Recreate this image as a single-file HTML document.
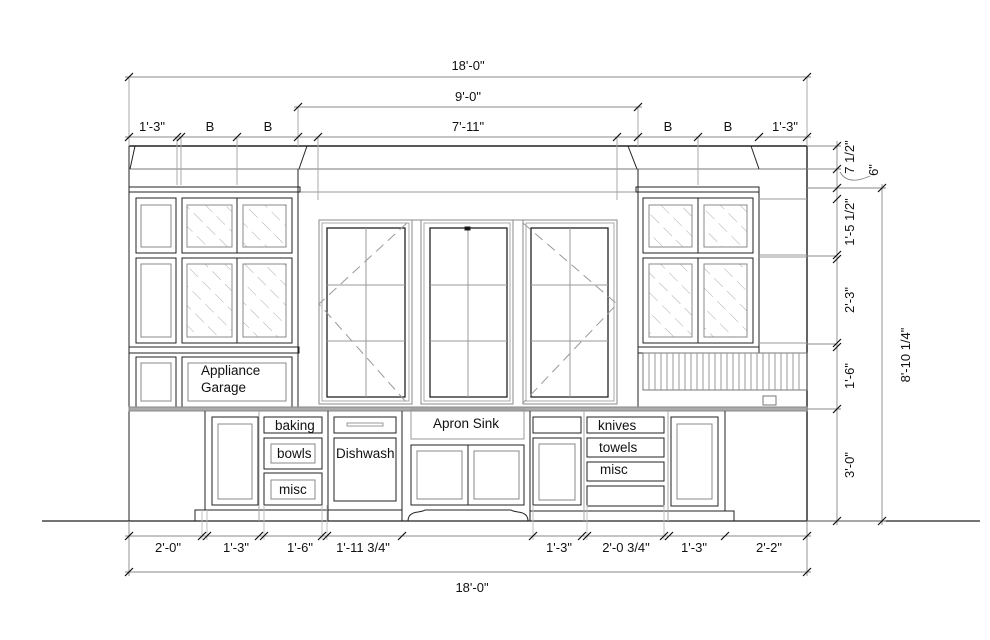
<!DOCTYPE html>
<html><head><meta charset="utf-8"><style>
html,body{margin:0;padding:0;background:#fff;}
svg{display:block;}
text{font-family:"Liberation Sans",Arial,sans-serif;fill:#111;}
</style></head><body>
<svg width="990" height="640" viewBox="0 0 990 640" xmlns="http://www.w3.org/2000/svg">
<defs>
<g id="t"><line x1="-4" y1="4" x2="4" y2="-4" stroke="#111" stroke-width="1.2"/></g>
<pattern id="hatch" patternUnits="userSpaceOnUse" width="14" height="18" patternTransform="rotate(-45)">
<line x1="0" y1="0" x2="0" y2="18" stroke="#888" stroke-width="0.7" stroke-dasharray="12 6"/>
</pattern>
</defs>
<g fill="none" stroke="#222" stroke-width="1">
<line x1="42" y1="521" x2="980" y2="521" stroke-width="1.3"/>
<line x1="129" y1="146" x2="129" y2="521"/>
<line x1="807" y1="146" x2="807" y2="521" stroke-width="1.4"/>
<line x1="129" y1="146" x2="807" y2="146" stroke-width="1.4"/>
<line x1="129" y1="169" x2="807" y2="169" stroke="#777"/>
<line x1="135" y1="146" x2="130" y2="169"/>
<line x1="307" y1="146" x2="299" y2="169"/>
<line x1="628" y1="146" x2="637" y2="169"/>
<line x1="751" y1="146" x2="759" y2="169"/>
<line x1="298" y1="169" x2="298" y2="410"/>
<line x1="638" y1="169" x2="638" y2="410"/>
<line x1="298" y1="192" x2="638" y2="192" stroke="#999"/>
<g stroke="#aaa"><line x1="177" y1="137" x2="177" y2="185"/><line x1="181" y1="137" x2="181" y2="185"/><line x1="237" y1="137" x2="237" y2="185"/><line x1="318" y1="137" x2="318" y2="200"/><line x1="617" y1="137" x2="617" y2="200"/><line x1="698" y1="137" x2="698" y2="185"/>
<line x1="298" y1="107" x2="298" y2="146"/><line x1="638" y1="107" x2="638" y2="146"/><line x1="129" y1="77" x2="129" y2="146"/><line x1="807" y1="77" x2="807" y2="146"/></g>

<rect x="129" y="187" width="171" height="5"/>
<rect x="129" y="192" width="169" height="155"/>
<rect x="129" y="347" width="170" height="6"/>
<rect x="136" y="198" width="40" height="55"/><rect x="141" y="205" width="30" height="42" stroke="#888"/>
<rect x="136" y="258" width="40" height="85"/><rect x="141" y="264" width="30" height="73" stroke="#888"/>
<rect x="182" y="198" width="110" height="55"/><line x1="237" y1="198" x2="237" y2="253"/>
<rect x="187" y="205" width="45" height="42" fill="url(#hatch)" stroke="#888"/><rect x="243" y="205" width="43" height="42" fill="url(#hatch)" stroke="#888"/>
<rect x="182" y="258" width="110" height="85"/><line x1="237" y1="258" x2="237" y2="343"/>
<rect x="187" y="264" width="45" height="73" fill="url(#hatch)" stroke="#888"/><rect x="243" y="264" width="43" height="73" fill="url(#hatch)" stroke="#888"/>
<rect x="136" y="357" width="40" height="50"/><rect x="141" y="363" width="30" height="38" stroke="#888"/>
<rect x="182" y="357" width="110" height="50"/><rect x="188" y="363" width="98" height="38" stroke="#888"/>

<rect x="636" y="187" width="123" height="5"/>
<rect x="638" y="192" width="121" height="155"/>
<rect x="638" y="347" width="121" height="6"/>
<rect x="643" y="198" width="110" height="55"/><line x1="698" y1="198" x2="698" y2="253"/>
<rect x="649" y="205" width="43" height="42" fill="url(#hatch)" stroke="#888"/><rect x="704" y="205" width="43" height="42" fill="url(#hatch)" stroke="#888"/>
<rect x="643" y="258" width="110" height="85"/><line x1="698" y1="258" x2="698" y2="343"/>
<rect x="649" y="264" width="43" height="73" fill="url(#hatch)" stroke="#888"/><rect x="704" y="264" width="43" height="73" fill="url(#hatch)" stroke="#888"/>
<g stroke="#999"><line x1="759" y1="199" x2="807" y2="199"/><line x1="759" y1="255" x2="807" y2="255"/><line x1="759" y1="257" x2="807" y2="257"/><line x1="759" y1="343" x2="807" y2="343"/></g>
<rect x="643" y="353" width="164" height="37" stroke="#777"/>
<g stroke="#999">
<line x1="649" y1="353" x2="649" y2="390"/><line x1="655" y1="353" x2="655" y2="390"/><line x1="661" y1="353" x2="661" y2="390"/><line x1="667" y1="353" x2="667" y2="390"/><line x1="673" y1="353" x2="673" y2="390"/><line x1="679" y1="353" x2="679" y2="390"/><line x1="685" y1="353" x2="685" y2="390"/><line x1="691" y1="353" x2="691" y2="390"/><line x1="697" y1="353" x2="697" y2="390"/><line x1="703" y1="353" x2="703" y2="390"/><line x1="709" y1="353" x2="709" y2="390"/><line x1="715" y1="353" x2="715" y2="390"/><line x1="721" y1="353" x2="721" y2="390"/><line x1="727" y1="353" x2="727" y2="390"/><line x1="733" y1="353" x2="733" y2="390"/><line x1="739" y1="353" x2="739" y2="390"/><line x1="745" y1="353" x2="745" y2="390"/><line x1="751" y1="353" x2="751" y2="390"/><line x1="757" y1="353" x2="757" y2="390"/><line x1="763" y1="353" x2="763" y2="390"/><line x1="769" y1="353" x2="769" y2="390"/><line x1="775" y1="353" x2="775" y2="390"/><line x1="781" y1="353" x2="781" y2="390"/><line x1="787" y1="353" x2="787" y2="390"/><line x1="793" y1="353" x2="793" y2="390"/><line x1="799" y1="353" x2="799" y2="390"/>
</g>
<rect x="763" y="396" width="13" height="9" stroke="#777"/>

<g>
<rect x="319" y="220" width="93" height="184" stroke="#888"/><rect x="322" y="223" width="87" height="178" stroke="#aaa"/>
<rect x="327" y="228" width="78" height="169" stroke-width="1.3"/>
<line x1="366" y1="228" x2="366" y2="397" stroke="#999"/><line x1="327" y1="285" x2="405" y2="285" stroke="#999"/><line x1="327" y1="341" x2="405" y2="341" stroke="#999"/>
<polyline points="407,223 319,304 407,403" stroke="#999" stroke-dasharray="10 6"/>
<rect x="421" y="220" width="92" height="184" stroke="#888"/><rect x="424" y="223" width="86" height="178" stroke="#aaa"/>
<rect x="430" y="228" width="77" height="169" stroke-width="1.3"/>
<line x1="468" y1="228" x2="468" y2="397" stroke="#999"/><line x1="430" y1="285" x2="507" y2="285" stroke="#999"/><line x1="430" y1="341" x2="507" y2="341" stroke="#999"/>
<rect x="465" y="227" width="5" height="3" fill="#111"/>
<rect x="523" y="220" width="94" height="184" stroke="#888"/><rect x="526" y="223" width="88" height="178" stroke="#aaa"/>
<rect x="531" y="228" width="77" height="169" stroke-width="1.3"/>
<line x1="570" y1="228" x2="570" y2="397" stroke="#999"/><line x1="531" y1="285" x2="608" y2="285" stroke="#999"/><line x1="531" y1="341" x2="608" y2="341" stroke="#999"/>
<polyline points="523,223 617,304 523,403" stroke="#999" stroke-dasharray="10 6"/>
<line x1="412" y1="220" x2="421" y2="220" stroke="#888"/><line x1="513" y1="220" x2="523" y2="220" stroke="#888"/>
</g>

<rect x="129" y="407" width="678" height="4" fill="#aaa" stroke="#888"/>

<line x1="205" y1="411" x2="205" y2="510"/>
<polyline points="195,521 195,510 402,510"/>
<line x1="402" y1="411" x2="402" y2="521"/>
<rect x="212" y="417" width="46" height="88"/><rect x="218" y="424" width="34" height="75" stroke="#888"/>
<line x1="259" y1="411" x2="259" y2="521" stroke="#aaa"/>
<rect x="264" y="417" width="58" height="16"/>
<rect x="264" y="438" width="58" height="31"/><rect x="271" y="444" width="44" height="19" stroke="#888"/>
<rect x="264" y="473" width="58" height="32"/><rect x="271" y="480" width="44" height="19" stroke="#888"/>
<line x1="328" y1="411" x2="328" y2="521"/>
<rect x="334" y="417" width="62" height="16"/><rect x="347" y="423" width="36" height="3" stroke="#999"/>
<rect x="334" y="438" width="62" height="63"/>

<rect x="411" y="409" width="113" height="30" stroke="#999"/>
<rect x="411" y="445" width="113" height="60"/><line x1="468" y1="445" x2="468" y2="505"/>
<rect x="417" y="451" width="45" height="48" stroke="#888"/><rect x="474" y="451" width="45" height="48" stroke="#888"/>
<path d="M408 521 Q408 513 418 512 Q424 511 425 510 L511 510 Q512 511 518 512 Q528 513 528 521"/>

<line x1="530" y1="411" x2="530" y2="521"/>
<rect x="533" y="417" width="48" height="16"/>
<rect x="533" y="438" width="48" height="67"/><rect x="539" y="444" width="36" height="56" stroke="#888"/>
<rect x="587" y="417" width="77" height="16"/>
<rect x="587" y="438" width="77" height="19"/>
<rect x="587" y="462" width="77" height="19"/>
<rect x="587" y="486" width="77" height="20"/>
<rect x="671" y="417" width="47" height="89"/><rect x="677" y="424" width="35" height="75" stroke="#888"/>
<line x1="725" y1="411" x2="725" y2="511"/>
<polyline points="530,511 734,511 734,521"/>
<line x1="584" y1="411" x2="584" y2="521" stroke="#aaa"/>
<line x1="668" y1="411" x2="668" y2="521" stroke="#aaa"/>

<g stroke="#888" stroke-width="0.9">
<line x1="125" y1="77" x2="811" y2="77"/>
<line x1="294" y1="107" x2="642" y2="107"/>
<line x1="125" y1="137" x2="811" y2="137"/>
<line x1="125" y1="536" x2="811" y2="536"/>
<line x1="125" y1="572" x2="811" y2="572"/>
<line x1="129" y1="521" x2="129" y2="576"/><line x1="807" y1="521" x2="807" y2="576"/>
<line x1="837" y1="141" x2="837" y2="525"/>
<line x1="882" y1="184" x2="882" y2="525"/>
<line x1="807" y1="146" x2="841" y2="146"/><line x1="807" y1="169" x2="841" y2="169"/><line x1="807" y1="188" x2="886" y2="188"/>
<line x1="807" y1="409" x2="841" y2="409"/><line x1="807" y1="521" x2="886" y2="521"/>
<line x1="807" y1="256" x2="837" y2="256"/><line x1="807" y1="344" x2="837" y2="344"/>
<path d="M840 172 Q848 186 870 176" fill="none"/>
<g stroke="#bbb"><line x1="202" y1="510" x2="202" y2="540"/><line x1="207" y1="510" x2="207" y2="540"/><line x1="264" y1="505" x2="264" y2="540"/><line x1="322" y1="505" x2="322" y2="540"/><line x1="327" y1="505" x2="327" y2="540"/><line x1="533" y1="505" x2="533" y2="540"/><line x1="587" y1="505" x2="587" y2="540"/><line x1="664" y1="505" x2="664" y2="540"/></g>
</g>
</g>
<g>
<use href="#t" x="129" y="77"/><use href="#t" x="807" y="77"/>
<use href="#t" x="298" y="107"/><use href="#t" x="638" y="107"/>
<use href="#t" x="129" y="137"/><use href="#t" x="177" y="137"/><use href="#t" x="181" y="137"/><use href="#t" x="237" y="137"/><use href="#t" x="298" y="137"/><use href="#t" x="318" y="137"/>
<use href="#t" x="617" y="137"/><use href="#t" x="638" y="137"/><use href="#t" x="698" y="137"/><use href="#t" x="759" y="137"/><use href="#t" x="807" y="137"/>
<use href="#t" x="129" y="536"/><use href="#t" x="202" y="536"/><use href="#t" x="207" y="536"/><use href="#t" x="259" y="536"/><use href="#t" x="264" y="536"/><use href="#t" x="322" y="536"/><use href="#t" x="327" y="536"/><use href="#t" x="402" y="536"/>
<use href="#t" x="533" y="536"/><use href="#t" x="582" y="536"/><use href="#t" x="587" y="536"/><use href="#t" x="664" y="536"/><use href="#t" x="669" y="536"/><use href="#t" x="725" y="536"/><use href="#t" x="807" y="536"/>
<use href="#t" x="129" y="572"/><use href="#t" x="807" y="572"/>
<use href="#t" x="837" y="146"/><use href="#t" x="837" y="169"/><use href="#t" x="837" y="188"/><use href="#t" x="837" y="199"/><use href="#t" x="837" y="255"/><use href="#t" x="837" y="259"/><use href="#t" x="837" y="343"/><use href="#t" x="837" y="347"/><use href="#t" x="837" y="409"/><use href="#t" x="837" y="521"/>
<use href="#t" x="882" y="188"/><use href="#t" x="882" y="521"/>
</g>
<g font-size="13" text-anchor="middle">
<text x="468" y="70">18'-0"</text>
<text x="468" y="101">9'-0"</text>
<text x="468" y="131">7'-11"</text>
<text x="152" y="131">1'-3"</text><text x="210" y="131">B</text><text x="268" y="131">B</text>
<text x="668" y="131">B</text><text x="728" y="131">B</text><text x="785" y="131">1'-3"</text>
<text x="168" y="552">2'-0"</text><text x="236" y="552">1'-3"</text><text x="300" y="552">1'-6"</text><text x="363" y="552">1'-11 3/4"</text>
<text x="559" y="552">1'-3"</text><text x="626" y="552">2'-0 3/4"</text><text x="694" y="552">1'-3"</text><text x="769" y="552">2'-2"</text>
<text x="472" y="592">18'-0"</text>
<text transform="translate(854,157) rotate(-90)">7 1/2"</text>
<text transform="translate(878,170) rotate(-90)">6"</text>
<text transform="translate(854,222) rotate(-90)">1'-5 1/2"</text>
<text transform="translate(854,300) rotate(-90)">2'-3"</text>
<text transform="translate(854,376) rotate(-90)">1'-6"</text>
<text transform="translate(854,465) rotate(-90)">3'-0"</text>
<text transform="translate(910,355) rotate(-90)">8'-10 1/4"</text>
</g>
<g font-size="13.5">
<text x="201" y="375">Appliance</text><text x="201" y="392">Garage</text>
<text x="275" y="430">baking</text><text x="277" y="458">bowls</text><text x="279" y="494">misc</text>
<text x="336" y="458">Dishwash</text>
<text x="433" y="428">Apron Sink</text>
<text x="598" y="430">knives</text><text x="599" y="452">towels</text><text x="600" y="474">misc</text>
</g>
</svg>
</body></html>
